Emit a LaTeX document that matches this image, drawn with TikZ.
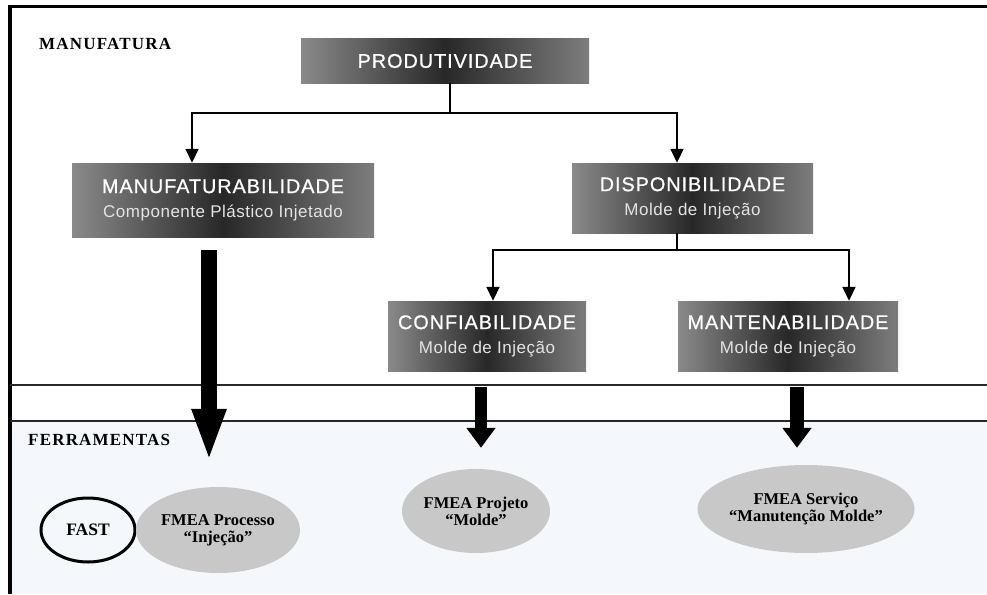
\documentclass[tikz,border=0pt]{standalone}
\usepackage{fontspec}
\setmainfont{Liberation Serif}
\setsansfont{Liberation Sans}
\newfontfamily\titlefont{Liberation Sans}[LetterSpace=5,FakeBold=0.8]
\newfontfamily\subfont{Liberation Sans}[LetterSpace=3]
\newfontfamily\areafont{Liberation Serif}[LetterSpace=7]
\usetikzlibrary{arrows.meta,shapes.geometric}

\definecolor{boxedge}{RGB}{138,138,138}
\definecolor{boxedgeR}{RGB}{125,125,125}
\definecolor{boxdark}{RGB}{40,40,40}
\definecolor{subgray}{RGB}{228,228,228}
\definecolor{toolsbg}{RGB}{244,248,252}
\definecolor{ellgray}{RGB}{200,200,200}
\definecolor{divider}{RGB}{40,40,40}

\tikzset{
  gbox/.style={rectangle, inner sep=0pt, left color=boxedge, right color=boxedgeR,
    middle color=boxdark, text=white, align=center,
    font=\fontsize{17}{24}\selectfont},
  conn/.style={line width=1.8pt, black},
  tipped/.style={conn, -{Triangle[width=13pt,length=14pt]}},
  tool/.style={ellipse, inner sep=0pt, fill=ellgray, align=center,
    font=\bfseries\fontsize{16.5}{17}\selectfont},
  area/.style={anchor=west, inner sep=0pt, font=\areafont\bfseries\fontsize{17}{18}\selectfont},
}
\newcommand{\boxtitle}[1]{{\titlefont\fontsize{19.8}{24}\selectfont #1}}
\newcommand{\boxsub}[1]{{\subfont\color{subgray}\fontsize{17}{24}\selectfont #1}}

\begin{document}
\begin{tikzpicture}[x=1pt,y=-1pt]
\useasboundingbox (0,0) rectangle (987,594);

% tools band
\fill[toolsbg] (11,421) rectangle (987,594);

% frame and dividers
\draw[line width=3.5pt] (10,594) -- (10,6.5) -- (987,6.5);
\draw[line width=1.8pt, divider] (10,385) -- (987,385);
\draw[line width=1.8pt, divider] (10,421) -- (987,421);

% area labels
\node[area] (lblmanuf) at (39,44) {MANUFATURA};
\node[area] (lbltools) at (28,440) {FERRAMENTAS};

% attribute boxes
\node[gbox, minimum width=288pt, minimum height=44pt] (prod) at (445,61)
  {\boxtitle{PRODUTIVIDADE}};
\node[gbox, minimum width=302pt, minimum height=74pt] (manuf) at (223,200)
  {\boxtitle{MANUFATURABILIDADE}\\ \boxsub{Componente Plástico Injetado}};
\node[gbox, minimum width=241pt, minimum height=70pt] (disp) at (692.5,198)
  {\boxtitle{DISPONIBILIDADE}\\ \boxsub{Molde de Injeção}};
\node[gbox, minimum width=198pt, minimum height=70pt] (conf) at (487,336)
  {\boxtitle{CONFIABILIDADE}\\ \boxsub{Molde de Injeção}};
\node[gbox, minimum width=220pt, minimum height=70pt] (mant) at (788,336)
  {\boxtitle{MANTENABILIDADE}\\ \boxsub{Molde de Injeção}};

% tool ellipses
\node[ellipse, draw, line width=3pt, minimum width=94pt, minimum height=64pt,
  inner sep=0pt, font=\bfseries\fontsize{17.5}{18}\selectfont] (fast) at (88,530) {FAST};
\node[tool, minimum width=164pt, minimum height=86pt] (fmeaproc) at (218,530)
  {FMEA Processo\\“Injeção”};
\node[tool, minimum width=148pt, minimum height=84pt] (fmeaproj) at (476,511)
  {FMEA Projeto\\“Molde”};
\node[tool, minimum width=168pt, minimum height=88pt] (fmeaserv) at (806,509)
  {FMEA Serviço\\“Manutenção Molde”};

% tree connectors
\draw[conn] ([xshift=5pt]prod.south) -- ++(0,30) coordinate (hubA);
\draw[tipped] (hubA) -| ([xshift=-31pt]manuf.north);
\draw[tipped] (hubA) -| ([xshift=-15.5pt]disp.north);
\draw[conn] ([xshift=-15.5pt]disp.south) -- ++(0,17) coordinate (hubB);
\draw[tipped] (hubB) -| ([xshift=6pt]conf.north);
\draw[tipped] (hubB) -| ([xshift=61pt]mant.north);

% heavy arrows down to the tools
\coordinate (bigA) at ([xshift=-14pt,yshift=-13pt]manuf.south);
\draw[line width=16pt, shorten >=25pt, -{Triangle[width=31pt,length=53pt]}]
  (bigA) -- (bigA |- fmeaproc.north);
\coordinate (bigB) at ([xshift=-6pt,yshift=-16pt]conf.south);
\draw[line width=12pt, shorten >=21pt, -{Triangle[width=28pt,length=20pt]}]
  (bigB) -- (bigB |- fmeaproj.north);
\coordinate (bigC) at ([xshift=9pt,yshift=-16pt]mant.south);
\draw[line width=14pt, shorten >=17pt, -{Triangle[width=28pt,length=20pt]}]
  (bigC) -- (bigC |- fmeaserv.north);
\end{tikzpicture}
\end{document}
